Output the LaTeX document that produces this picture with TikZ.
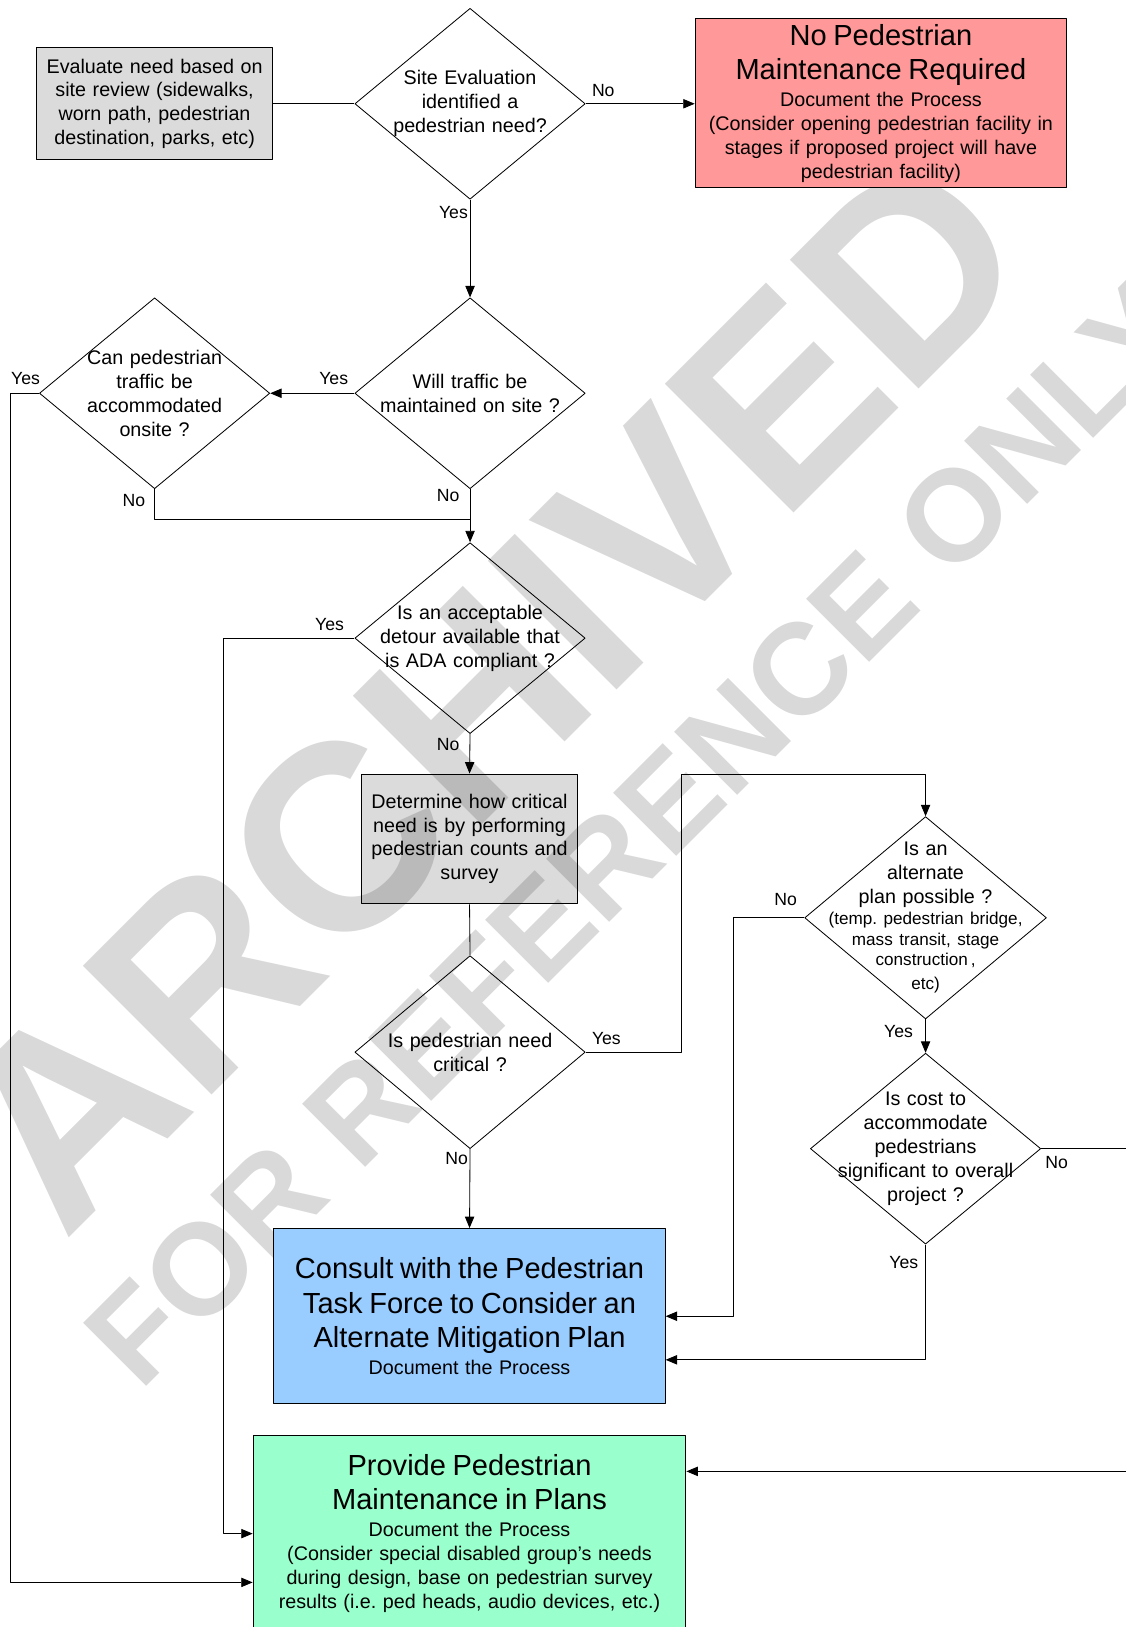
\documentclass[tikz,border=0pt]{standalone}
\usepackage{fontspec}
\setmainfont{Liberation Sans}
\usetikzlibrary{shapes.geometric,arrows.meta}
\definecolor{wmgray}{HTML}{D9D9D9}
\definecolor{noped}{HTML}{FF9999}
\definecolor{consultblue}{HTML}{99CCFF}
\definecolor{plangreen}{HTML}{99FFCC}
\newcommand{\txt}{\fontsize{19}{23}\selectfont}
\newcommand{\bigtxt}{\fontsize{28}{33}\selectfont}
\newcommand{\smtxt}{\fontsize{16.5}{20}\selectfont}
\newcommand{\lbltxt}{\fontsize{17}{20}\selectfont}
\frenchspacing
\begin{document}
\begin{tikzpicture}[x=1pt, y=-1pt, font=\txt, line join=round, >={Triangle[length=11pt,width=9pt]},
	box/.style={draw, line width=1pt, inner sep=0pt, align=center},
	graybox/.style={box, fill=black, fill opacity=0.14, text opacity=1},
	dec/.style={diamond, draw, line width=0.8pt, inner sep=-60pt, minimum width=\dw pt, minimum height=\dh pt, text width=240pt, align=center},
	lbl/.style={font=\lbltxt, inner sep=0pt},
	wmark/.style={text=wmgray, rotate=45, anchor=base west, inner sep=0pt},
	link/.style={line width=0.8pt}]
		\def\dw{222} \def\dh{184} % diamond size
		\useasboundingbox (0,0) rectangle (1085,1568);
		% watermark behind everything
		\node[wmark, font=\bfseries\fontsize{255}{255}\selectfont] (wm-a) at (62,1198) {ARCHIVED};
		\node[wmark, font=\bfseries\fontsize{125}{125}\selectfont] (wm-b) at (135,1342) {FOR REFERENCE ONLY};
		
		\node[graybox, minimum width=228pt, minimum height=108pt, text width=228pt] (eval) at (149,100) {Evaluate need based on\\site review (sidewalks,\\worn path, pedestrian\\destination, parks, etc)};
		\node[dec] (site) at (453,100) {Site Evaluation\\identified a\\pedestrian need?};
		\node[box, fill=noped, minimum width=358pt, minimum height=163pt, text width=358pt] (noreq) at (849,99.5) {\bigtxt No Pedestrian\\Maintenance Required\\[3pt]\txt Document the Process\\(Consider opening pedestrian facility in\\stages if proposed project will have\\pedestrian facility)\\[-3pt]};
		\node[dec] (maint) at (453,379) {Will traffic be\\maintained on site ?};
		\node[dec] (onsite) at (149,379) {Can pedestrian\\traffic be\\accommodated\\onsite ?};
		\node[dec] (detour) at (453,615) {Is an acceptable\\detour available that\\is ADA compliant ?};
		\node[graybox, minimum width=209pt, minimum height=125pt, text width=209pt] (crit) at (452.5,808.5) {Determine how critical\\need is by performing\\pedestrian counts and\\survey};
		\node[dec, minimum height=186pt] (need) at (453,1014) {Is pedestrian need\\critical ?};
		\node[dec, minimum width=233pt, minimum height=195pt] (alt) at (892,884.5) {Is an\\alternate\\plan possible ?\\\smtxt (temp. pedestrian bridge,\\mass transit, stage\\construction\,,\\etc)};
		\node[dec] (cost) at (892,1107) {Is cost to\\accommodate\\pedestrians\\significant to overall\\project ?};
		\node[box, fill=consultblue, minimum width=377pt, minimum height=169pt, text width=377pt] (consult) at (452.5,1268.5) {\bigtxt Consult with the Pedestrian\\Task Force to Consider an\\Alternate Mitigation Plan\\[3pt]\txt Document the Process};
		\node[box, fill=plangreen, minimum width=417pt, minimum height=190pt, text width=417pt] (plans) at (452.5,1478) {\bigtxt Provide Pedestrian\\Maintenance in Plans\\[3pt]\txt Document the Process\\(Consider special disabled group's needs\\during design, base on pedestrian survey\\results (i.e. ped heads, audio devices, etc.)};
		
		\draw[link] (eval.east) -- (site.west);
		\draw[link,->] (site.east) -- (site.east -| noreq.west);
		\draw[link,->] (site.south) -- (maint.north);
		\draw[link,->] (maint.west) -- (onsite.east);
		\draw[link,->] (onsite.west) -- ++(-28,0) |- ([yshift=-47pt]plans.west);
		\draw[link] (onsite.south) |- ([yshift=-29pt]maint.south);
		\draw[link,->] (maint.south) -- (detour.north);
		\draw[link,->] (detour.west) -- ++(-126,0) |- (plans.west);
		\draw[link,->] (detour.south) -- (crit.north);
		\draw[link] (crit.south) -- (need.north);
		\draw[link,->] (need.east) -- ++(92,0) |- ([yshift=40pt]alt.north) -- (alt.north);
		\draw[link,->] (need.south) -- (consult.north);
		\draw[link,->] (alt.west) -- ++(-68,0) |- (consult.east);
		\draw[link,->] (alt.south) -- (cost.north);
		\draw[link,->] (cost.east) -- ++(100,0) |- ([yshift=60pt]plans.east);
		\draw[link,->] (cost.south) |- ([yshift=-42pt]consult.east);
		
		\node[lbl] (site-no) at ([shift={(17,-13)}]site.east) {No};
		\node[lbl] (site-yes) at ([shift={(-16,12)}]site.south) {Yes};
		\node[lbl] (maint-yes) at ([shift={(-20,-14)}]maint.west) {Yes};
		\node[lbl] (maint-no) at ([shift={(-21,6)}]maint.south) {No};
		\node[lbl] (onsite-yes) at ([shift={(-13,-14)}]onsite.west) {Yes};
		\node[lbl] (onsite-no) at ([shift={(-20,11)}]onsite.south) {No};
		\node[lbl] (detour-yes) at ([shift={(-24,-13)}]detour.west) {Yes};
		\node[lbl] (detour-no) at ([shift={(-21,10)}]detour.south) {No};
		\node[lbl] (need-yes) at ([shift={(20,-13)}]need.east) {Yes};
		\node[lbl] (need-no) at ([shift={(-13,9)}]need.south) {No};
		\node[lbl] (alt-no) at ([shift={(-18,-18)}]alt.west) {No};
		\node[lbl] (alt-yes) at ([shift={(-26,12)}]alt.south) {Yes};
		\node[lbl] (cost-no) at ([shift={(15,13)}]cost.east) {No};
		\node[lbl] (cost-yes) at ([shift={(-21,17)}]cost.south) {Yes};
\end{tikzpicture}
\end{document}
